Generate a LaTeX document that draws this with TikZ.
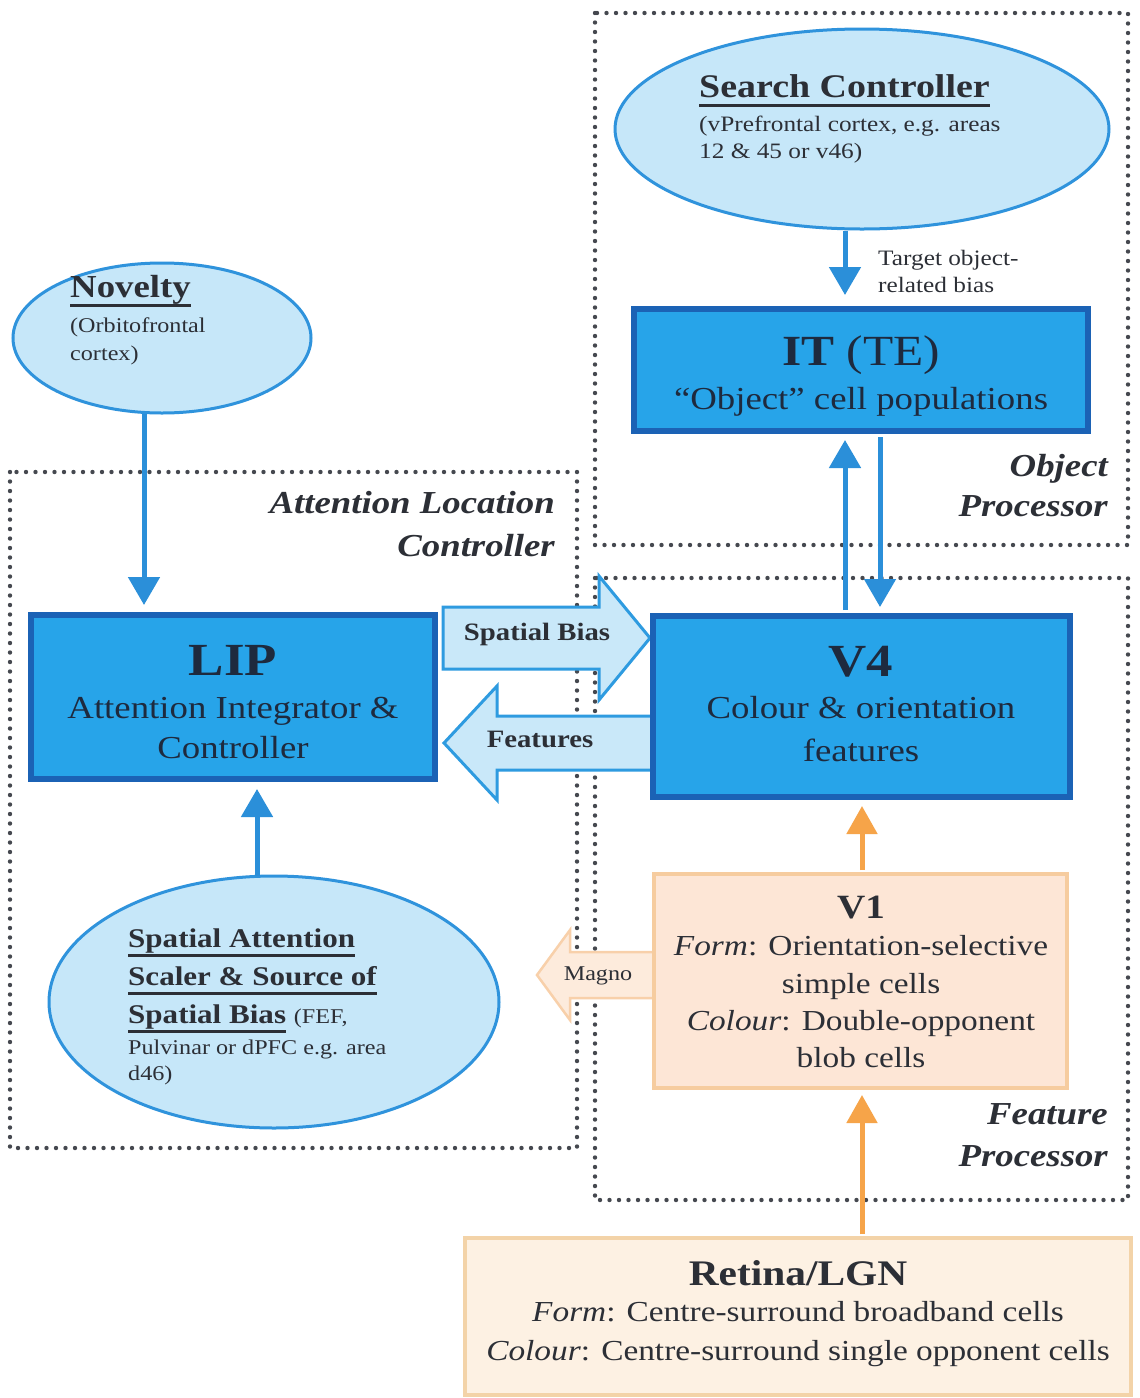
\documentclass[tikz,border=0pt]{standalone}
\usepackage{fontspec}
\setmainfont{Liberation Serif}[FakeStretch=1.15]
\usetikzlibrary{shapes.geometric,arrows.meta,calc}
\definecolor{ellF}{HTML}{C6E7F9}
\definecolor{ellB}{HTML}{2F93DC}
\definecolor{boxF}{HTML}{27A4E9}
\definecolor{boxB}{HTML}{1B62B5}
\definecolor{arrB}{HTML}{2B8FD9}
\definecolor{orng}{HTML}{F6A449}
\definecolor{vF}{HTML}{FDE6D6}
\definecolor{vB}{HTML}{F6CC9F}
\definecolor{rF}{HTML}{FDF1E3}
\definecolor{rB}{HTML}{F3D3A8}
\definecolor{dotc}{HTML}{45484F}
\definecolor{txtc}{HTML}{2C2F36}
\definecolor{btxt}{HTML}{1E2A3E}
\definecolor{baF}{HTML}{C9E8F9}
\definecolor{baB}{HTML}{2E9BE0}
\definecolor{mF}{HTML}{FDEBDC}
\definecolor{mB}{HTML}{F8D0AA}
\newcommand\fsz[1]{\fontsize{#1}{#1}\selectfont}
\newcommand\thul[2][3.5pt]{\setbox0\hbox{#2}\rlap{\rule[-10pt]{\wd0}{#1}}\box0\relax}
\tikzset{
  ell/.style={ellipse, draw=ellB, line width=3pt, fill=ellF, inner sep=0pt},
  bluebox/.style={rectangle, draw=boxB, line width=6pt, fill=boxF, inner sep=0pt},
  v1box/.style={rectangle, draw=vB, line width=4pt, fill=vF, inner sep=0pt},
  retbox/.style={rectangle, draw=rB, line width=4pt, fill=rF, inner sep=0pt},
  dotbox/.style={draw=dotc, line width=4.4pt, dash pattern=on 0pt off 9.5pt, line cap=round},
  barrow/.style={draw=arrB, line width=5pt, -{Triangle[length=28pt,width=31pt]}},
  oarrow/.style={draw=orng, line width=5pt, -{Triangle[length=28pt,width=30pt]}},
  blockarr/.style={draw=baB, line width=3pt, fill=baF, line join=miter},
  magarr/.style={draw=mB, line width=2.5pt, fill=mF, line join=miter},
  txt/.style={inner sep=0pt, anchor=base, text=txtc},
  txtw/.style={inner sep=0pt, anchor=base west, text=txtc},
  txte/.style={inner sep=0pt, anchor=base east, text=txtc},
  btx/.style={inner sep=0pt, anchor=base, text=btxt},
}
\begin{document}
\begin{tikzpicture}[x=1pt,y=-1pt]
\useasboundingbox[fill=white] (0,0) rectangle (1140,1398);
% dotted group frames
\draw[dotbox] (595,13) rectangle (1128,545);
\draw[dotbox] (595,578) rectangle (1128,1200);
\draw[dotbox] (10,472) rectangle (577,1148);
% block arrows
\draw[blockarr] (443,607) -- (599,607) -- (599,576) -- (650,638) -- (599,700) -- (599,669) -- (443,669) -- cycle;
\draw[blockarr] (655,716) -- (497,716) -- (497,686) -- (444,743) -- (497,800) -- (497,770) -- (655,770) -- cycle;
\draw[magarr] (656,952) -- (570,952) -- (570,930) -- (537,975) -- (570,1020) -- (570,998) -- (656,998) -- cycle;
% ellipses
\node[ell, minimum width=494, minimum height=200] (search) at (862,129) {};
\node[ell, minimum width=298, minimum height=150] (novelty) at (162,338) {};
\node[ell, minimum width=450, minimum height=252] (spatial) at (274,1002) {};
% boxes
\node[bluebox, minimum width=454, minimum height=122] (it) at (861,370) {};
\node[bluebox, minimum width=404, minimum height=164] (lip) at (233,697) {};
\node[bluebox, minimum width=417, minimum height=181] (v4) at (861.5,706.5) {};
\node[v1box, minimum width=413, minimum height=214] (v1) at (860.5,981) {};
\node[retbox, minimum width=666, minimum height=157] (retina) at (798,1316.5) {};
% connectors
\draw[barrow] ($(search.south)+(-17,0)$) -- ($(it.north)+(-16,-11)$);
\draw[barrow] ($(novelty.south)+(-18,-1)$) -- ($(lip.north)+(-89,-7)$);
\draw[barrow] ($(spatial.north)+(-17,1)$) -- ($(lip.south)+(24,7)$);
\draw[barrow] ($(v4.north)+(-16.5,-3)$) -- ($(it.south)+(-16,6)$);
\draw[barrow] ($(it.south)+(19,3)$) -- ($(v4.north)+(18.5,-6)$);
\draw[oarrow] ($(v1.north)+(1.5,-2)$) -- ($(v4.south)+(0.5,6)$);
\draw[oarrow] ($(retina.north)+(64,-2)$) -- ($(v1.south)+(1.5,5)$);
% texts: search controller
\node[txtw] (st1) at (699,97) {\fsz{33}\bfseries\thul{Search Controller}};
\node[txtw] (st2) at (699,131) {\fsz{22}(vPrefrontal cortex, e.g. areas};
\node[txtw] (st3) at (699,158) {\fsz{22}12 \& 45 or v46)};
\node[txtw] (tb1) at (878,265) {\fsz{22}Target object-};
\node[txtw] (tb2) at (878,292) {\fsz{22}related bias};
% novelty
\node[txtw] (nv1) at (70,297) {\fsz{32}\bfseries\thul{Novelty}};
\node[txtw] (nv2) at (70,332) {\fsz{21}(Orbitofrontal};
\node[txtw] (nv3) at (70,360) {\fsz{21}cortex)};
% IT
\node[btx] (it1) at (861,365) {\fsz{43}\textbf{IT} (TE)};
\node[btx] (it2) at (861,409) {\fsz{32}``Object'' cell populations};
\node[txte] (op1) at (1108,476) {\fsz{32}\bfseries\itshape Object};
\node[txte] (op2) at (1108,516) {\fsz{32}\bfseries\itshape Processor};
% attention location
\node[txte] (al1) at (555,513) {\fsz{32}\bfseries\itshape Attention Location};
\node[txte] (al2) at (555,556) {\fsz{32}\bfseries\itshape Controller};
% LIP
\node[btx] (lip1) at (233,675) {\fsz{46}\bfseries LIP};
\node[btx] (lip2) at (233,718) {\fsz{32}Attention Integrator \&};
\node[btx] (lip3) at (233,758) {\fsz{32}Controller};
% V4
\node[btx] (v41) at (861,676) {\fsz{46}\bfseries V4};
\node[btx] (v42) at (861,718) {\fsz{32}Colour \& orientation};
\node[btx] (v43) at (861,761) {\fsz{32}features};
% block arrow labels
\node[txt] (sb) at (537,640) {\fsz{25}\bfseries Spatial Bias};
\node[txt] (fe) at (540,747) {\fsz{25}\bfseries Features};
\node[txt] (mg) at (598,980) {\fsz{21}Magno};
% V1
\node[txt] (v11) at (861,918) {\fsz{34}\bfseries V1};
\node[txt] (v12) at (861,955) {\fsz{29}\textit{Form}: Orientation-selective};
\node[txt] (v13) at (861,993) {\fsz{29}simple cells};
\node[txt] (v14) at (861,1030) {\fsz{29}\textit{Colour}: Double-opponent};
\node[txt] (v15) at (861,1067) {\fsz{29}blob cells};
% spatial attention
\node[txtw] (sa1) at (128,947) {\fsz{27}\bfseries\thul[3pt]{Spatial Attention}};
\node[txtw] (sa2) at (128,985) {\fsz{27}\bfseries\thul[3pt]{Scaler \& Source of}};
\node[txtw] (sa3) at (128,1023) {\fsz{27}\bfseries\thul[3pt]{Spatial Bias}\ {\mdseries\fsz{21}(FEF,}};
\node[txtw] (sa4) at (128,1054) {\fsz{21}Pulvinar or dPFC e.g. area};
\node[txtw] (sa5) at (128,1080) {\fsz{21}d46)};
% feature processor
\node[txte] (fp1) at (1108,1124) {\fsz{32}\bfseries\itshape Feature};
\node[txte] (fp2) at (1108,1166) {\fsz{32}\bfseries\itshape Processor};
% retina
\node[txt] (rt1) at (798,1285) {\fsz{36}\bfseries Retina/LGN};
\node[txt] (rt2) at (798,1321) {\fsz{29}\textit{Form}: Centre-surround broadband cells};
\node[txt] (rt3) at (798,1360) {\fsz{29}\textit{Colour}: Centre-surround single opponent cells};
\end{tikzpicture}
\end{document}
